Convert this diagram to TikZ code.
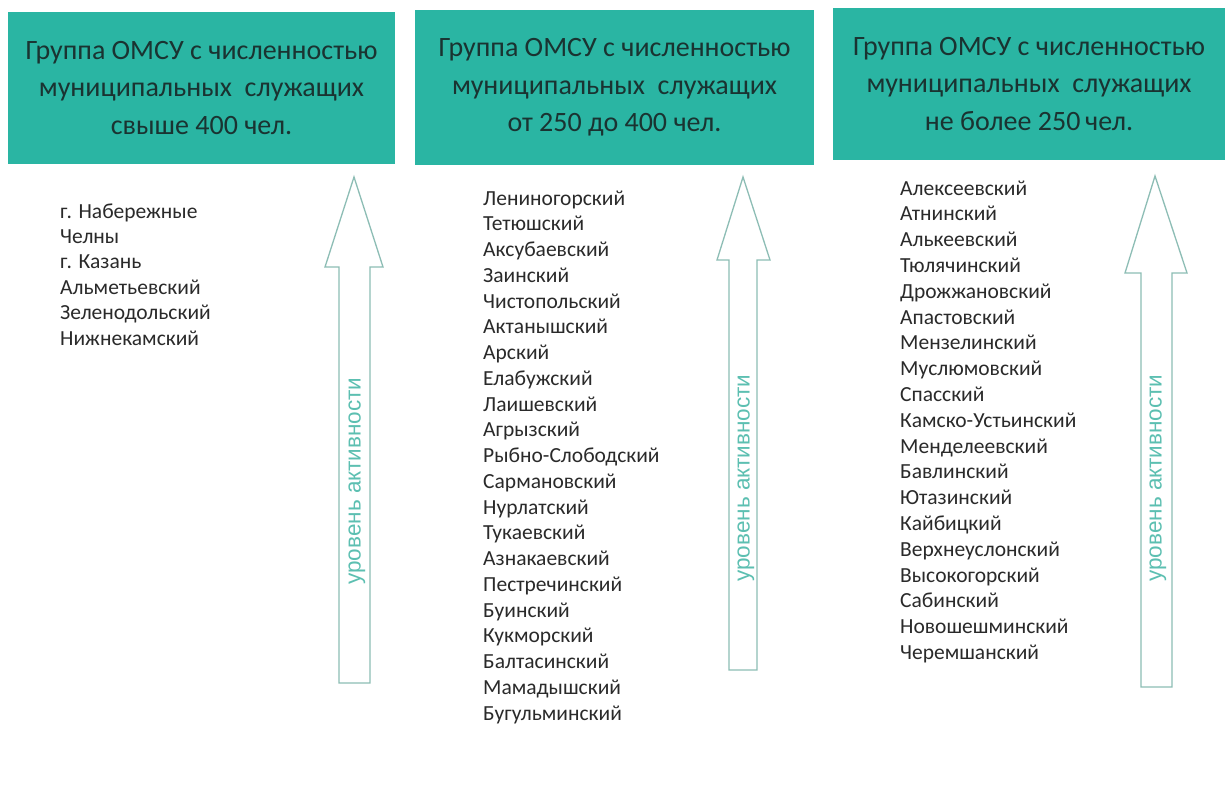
\documentclass[tikz,border=0pt]{standalone}
\usepackage{fontspec}
\setmainfont{Carlito}
\newfontfamily\arialf{Liberation Sans}
\definecolor{tealbox}{HTML}{2AB5A3}
\definecolor{hdtext}{HTML}{1A3331}
\definecolor{listtext}{HTML}{2A2A2A}
\definecolor{arrowline}{HTML}{8DBDB5}
\definecolor{arrowtext}{HTML}{5CBFB1}
\begin{document}
\begin{tikzpicture}[x=1pt,y=-1pt,
  header/.style={fill=tealbox, draw=none, inner sep=0, text=hdtext, align=center,
    font=\fontsize{28}{37.5}\selectfont},
  item/.style={anchor=base west, inner sep=0, text=listtext, font=\fontsize{21.5}{24}\selectfont},
  uparrow/.style={draw=arrowline, line width=1.3pt, fill=white, line join=miter},
  arrowlabel/.style={rotate=90, inner sep=0, text=arrowtext, font=\arialf\fontsize{22.5}{24}\selectfont}]
\useasboundingbox (0,0) rectangle (1225,800);
\fill[white] (0,0) rectangle (1225,800);

% headers
\node[header, minimum width=387pt, minimum height=152pt] (h1) at (201.5,88)
  {Группа ОМСУ с численностью\\муниципальных\ \ служащих\\свыше 400 чел.};
\node[header, minimum width=399pt, minimum height=155pt] (h2) at (614.5,87.5)
  {Группа ОМСУ с численностью\\муниципальных\ \ служащих\\от 250 до 400 чел.};
\node[header, minimum width=392pt, minimum height=152pt] (h3) at (1029,84)
  {Группа ОМСУ с численностью\\муниципальных\ \ служащих\\не более 250\,чел.};

% arrows
\draw[uparrow] (354,177) -- (383,267) -- (370,267) -- (370,683) -- (339,683) -- (339,267) -- (325,267) -- cycle;
\node[arrowlabel] (a1) at (357,481) {уровень активности};
\draw[uparrow] (743,177) -- (770,260) -- (757,260) -- (757,670) -- (729,670) -- (729,260) -- (717,260) -- cycle;
\node[arrowlabel] (a2) at (746,478) {уровень активности};
\draw[uparrow] (1155,176) -- (1187,273) -- (1172,273) -- (1172,687) -- (1141,687) -- (1141,273) -- (1125,273) -- cycle;
\node[arrowlabel] (a3) at (1158,478) {уровень активности};

% lists
\foreach \t [count=\i from 0] in {г. Набережные, Челны, г. Казань, Альметьевский, Зеленодольский, Нижнекамский}
  \node[item] (l1-\i) at (60,218+25.4*\i) {\t};
\foreach \t [count=\i from 0] in {Лениногорский, Тетюшский, Аксубаевский, Заинский, Чистопольский, Актанышский, Арский, Елабужский, Лаишевский, Агрызский, Рыбно-Слободский, Сармановский, Нурлатский, Тукаевский, Азнакаевский, Пестречинский, Буинский, Кукморский, Балтасинский, Мамадышский, Бугульминский}
  \node[item] (l2-\i) at (483,205+25.75*\i) {\t};
\foreach \t [count=\i from 0] in {Алексеевский, Атнинский, Алькеевский, Тюлячинский, Дрожжановский, Апастовский, Мензелинский, Муслюмовский, Спасский, Камско-Устьинский, Менделеевский, Бавлинский, Ютазинский, Кайбицкий, Верхнеуслонский, Высокогорский, Сабинский, Новошешминский, Черемшанский}
  \node[item] (l3-\i) at (900,195+25.8*\i) {\t};
\end{tikzpicture}
\end{document}
